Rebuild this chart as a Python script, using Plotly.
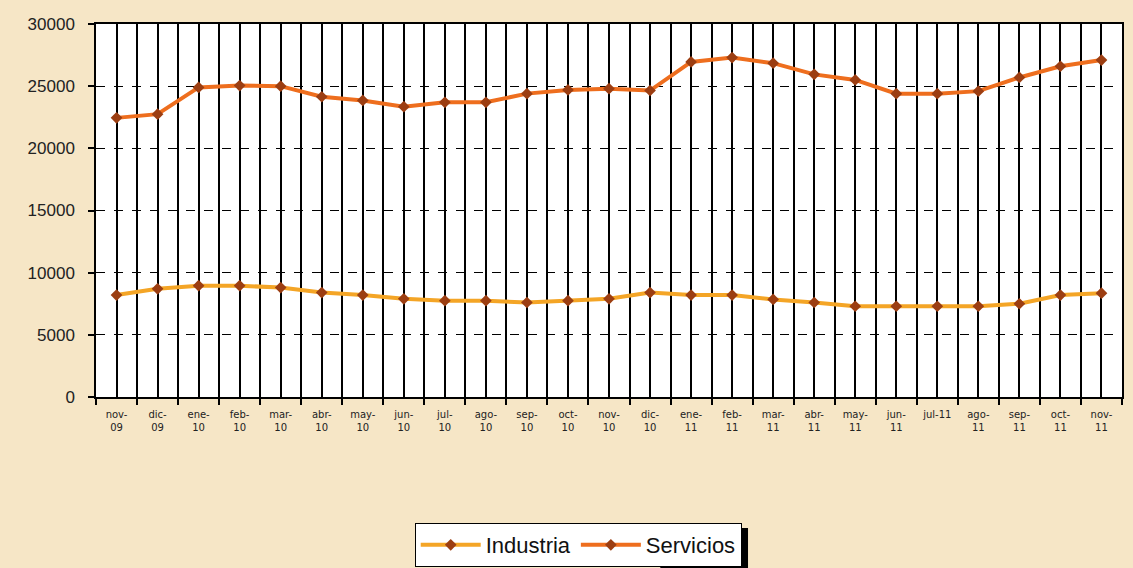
import plotly.graph_objects as go

meses = ["nov-<br>09", "dic-<br>09", "ene-<br>10", "feb-<br>10", "mar-<br>10", "abr-<br>10",
         "may-<br>10", "jun-<br>10", "jul-<br>10", "ago-<br>10", "sep-<br>10", "oct-<br>10",
         "nov-<br>10", "dic-<br>10", "ene-<br>11", "feb-<br>11", "mar-<br>11", "abr-<br>11",
         "may-<br>11", "jun-<br>11", "jul-11", "ago-<br>11", "sep-<br>11", "oct-<br>11", "nov-<br>11"]

industria = [8200, 8700, 8950, 8950, 8800, 8400, 8200, 7900, 7750, 7750, 7600, 7750,
             7900, 8400, 8200, 8200, 7850, 7600, 7300, 7300, 7300, 7300, 7500, 8200, 8350]

servicios = [22450, 22750, 24900, 25050, 25000, 24150, 23850, 23350, 23700, 23700, 24400, 24700,
             24800, 24650, 26950, 27300, 26850, 25950, 25500, 24400, 24400, 24600, 25700, 26600, 27100]

y_ticks = [0, 5000, 10000, 15000, 20000, 25000, 30000]

x = list(range(len(meses)))

fig = go.Figure()
fig.add_trace(go.Scatter(
    x=x, y=industria, name="Industria", mode="lines+markers",
    line=dict(color="#F4A526", width=4),
    marker=dict(symbol="diamond", size=9, color="#9C3E12"),
))
fig.add_trace(go.Scatter(
    x=x, y=servicios, name="Servicios", mode="lines+markers",
    line=dict(color="#EE6E1E", width=4),
    marker=dict(symbol="diamond", size=9, color="#9C3E12"),
))

fig.update_layout(
    width=1133, height=568,
    margin=dict(l=96, r=11, t=24, b=171, autoexpand=False),
    paper_bgcolor="#F6E6C6",
    plot_bgcolor="#FFFFFF",
    showlegend=True,
    legend=dict(
        orientation="h", x=0.47, xanchor="center", y=-0.338, yanchor="top",
        bgcolor="#FFFFFF", bordercolor="#000000", borderwidth=1,
        font=dict(family="Liberation Sans, Arial, sans-serif", size=22, color="#111111"),
        itemwidth=60, tracegroupgap=0,
    ),
    font=dict(family="Liberation Sans, Arial, sans-serif"),
    shapes=[dict(
        type="rect", xref="paper", yref="paper",
        x0=0.55, x1=0.6355, y0=-0.48, y1=-0.351,
        fillcolor="#000000", line=dict(width=0), layer="below",
    )],
)

fig.update_xaxes(
    range=[-0.5, len(meses) - 0.5],
    tickmode="array", tickvals=x, ticktext=meses,
    tickfont=dict(family="DejaVu Sans, sans-serif", size=10, color="#222222"),
    ticks="", showgrid=True, gridcolor="#000000", gridwidth=1.5,
    showline=True, linecolor="#000000", linewidth=1.5, mirror=True,
    zeroline=False,
    minor=dict(
        tickvals=[i - 0.5 for i in x] + [len(meses) - 0.5],
        showgrid=True, gridcolor="#000000", gridwidth=1.5,
        ticks="outside", ticklen=6, tickcolor="#000000", tickwidth=1.5,
    ),
    ticklabelstandoff=7,
)

fig.update_yaxes(
    range=[0, 30000],
    tickmode="array", tickvals=y_ticks, ticktext=[str(v) for v in y_ticks],
    tickfont=dict(family="Liberation Sans, Arial, sans-serif", size=17, color="#222222"),
    ticks="outside", ticklen=6, tickcolor="#000000", tickwidth=1.5,
    showgrid=True, gridcolor="#000000", gridwidth=1.2, griddash="dash",
    showline=True, linecolor="#000000", linewidth=1.5, mirror=True,
    zeroline=False,
    ticklabelstandoff=10,
)

fig.write_html("out.html", config={"displayModeBar": False},
               post_script="document.body.style.margin='0';")
